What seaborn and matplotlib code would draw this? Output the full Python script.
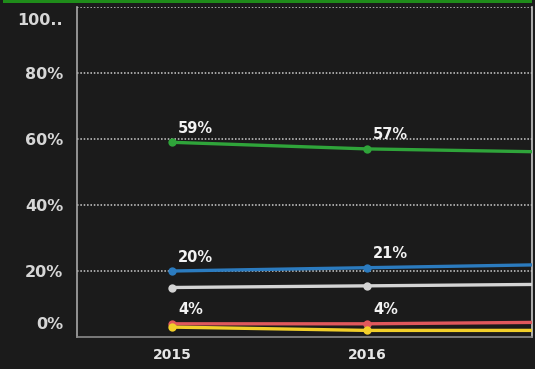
import matplotlib
matplotlib.use("Agg")
import matplotlib.pyplot as plt
import matplotlib.transforms as mtransforms
import seaborn as sns
import pandas as pd

# Share of respondents by year (the view stops just past 2016)
years = [2015, 2016, 2017]
green_vals = [59, 57, 56]
blue_vals = [20, 21, 22]
gray_vals = [15, 15.5, 16]
red_vals = [4, 4, 4.5]
yellow_vals = [3, 2, 2]

series_names = ["Green", "Blue", "Gray", "Red", "Yellow"]
series_vals = [green_vals, blue_vals, gray_vals, red_vals, yellow_vals]
series_colors = ["#2fa43a", "#2b7bbf", "#d4d4d4", "#e0585c", "#f2cf2a"]
labelled = ["Green", "Blue", "Red"]

y_ticks = [0, 20, 40, 60, 80, 100]
y_tick_labels = ["0%", "20%", "40%", "60%", "80%", "100.."]
x_ticks = [2015, 2016]
x_tick_labels = ["2015", "2016"]

rows = []
for name, vals in zip(series_names, series_vals):
    for yr, v in zip(years, vals):
        rows.append({"year": yr, "value": v, "series": name})
df = pd.DataFrame(rows)

bg = "#1b1b1b"
sns.set_theme(style="dark")
plt.rcParams["font.family"] = ["DejaVu Sans"]

fig = plt.figure(figsize=(5.35, 3.69), dpi=100, facecolor=bg)
ax = fig.add_axes([77 / 535, (369 - 337) / 369, (532 - 77) / 535, 330 / 369])
ax.set_facecolor(bg)

ax.set_xlim(2014.513, 2016.846)
ax.set_ylim(0, 100)

# dotted horizontal grid
for yv in y_ticks[1:]:
    ax.axhline(yv, color="#cfcfcf", lw=1.1, ls=(0, (1, 1.2)), zorder=1)

sns.lineplot(data=df, x="year", y="value", hue="series", hue_order=series_names,
             palette=dict(zip(series_names, series_colors)), marker="o",
             markersize=6, markeredgewidth=0, linewidth=2.4, legend=False,
             ax=ax, zorder=3)

# value labels above the points
for name, vals in zip(series_names, series_vals):
    if name not in labelled:
        continue
    for yr, v in zip(years, vals):
        if yr > 2016:
            continue
        ax.annotate(f"{v:g}%", (yr, v), xytext=(6, 14), textcoords="offset pixels",
                    ha="left", va="center", color="#f2f2f2", fontsize=10.5,
                    fontweight="bold", zorder=4)

ax.set_yticks(y_ticks)
ax.set_yticklabels(y_tick_labels)
ax.set_xticks(x_ticks)
ax.set_xticklabels(x_tick_labels)
ax.tick_params(axis="y", length=0, pad=10, labelsize=11.5, labelcolor="#d6d6d6")
ax.tick_params(axis="x", length=0, pad=8, labelsize=10, labelcolor="#e6e6e6")
for lab in ax.get_yticklabels() + ax.get_xticklabels():
    lab.set_fontweight("bold")

# keep the end labels inside the plotting band
ylabs = ax.get_yticklabels()
ylabs[0].set_transform(ylabs[0].get_transform() +
                       mtransforms.ScaledTranslation(0, 14 / 100, fig.dpi_scale_trans))
ylabs[-1].set_transform(ylabs[-1].get_transform() +
                        mtransforms.ScaledTranslation(0, -12 / 100, fig.dpi_scale_trans))

ax.set_xlabel("")
ax.set_ylabel("")
ax.grid(False)
for side in ["left", "bottom", "right"]:
    ax.spines[side].set_visible(True)
    ax.spines[side].set_linewidth(1.2)
ax.spines["left"].set_color("#a8a8a8")
ax.spines["bottom"].set_color("#8a8a8a")
ax.spines["right"].set_color("#c8c8c8")
ax.spines["top"].set_visible(False)

# header strip along the top edge
fig.add_artist(plt.Rectangle((3 / 535, 1 - 3 / 369), 529 / 535, 3 / 369,
                             transform=fig.transFigure, color="#1f8c1a", lw=0))

fig.savefig("out.png", dpi=100, facecolor=bg)
